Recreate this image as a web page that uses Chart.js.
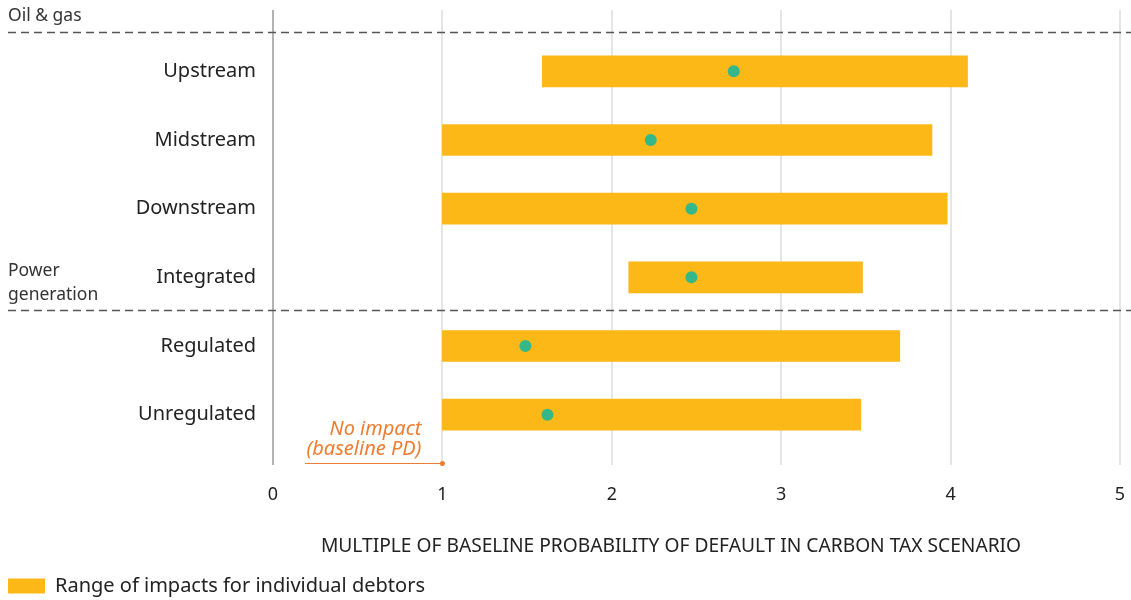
<!DOCTYPE html>
<html>
<head>
<meta charset="utf-8">
<script src="https://cdn.jsdelivr.net/npm/chart.js@4"></script>
<style>
  html, body { margin: 0; padding: 0; background: #fff; overflow: hidden; }
  #wrap { width: 1131px; height: 600px; }
</style>
</head>
<body>
<div id="wrap"><canvas id="chart"></canvas></div>
<script>
// data
var categories = ['Upstream', 'Midstream', 'Downstream', 'Integrated', 'Regulated', 'Unregulated'];
var rangeLow   = [1.59, 1.0, 1.0, 2.10, 1.0, 1.0];
var rangeHigh  = [4.10, 3.89, 3.98, 3.48, 3.70, 3.47];
var midPoints  = [2.72, 2.23, 2.47, 2.47, 1.49, 1.62];
var xTicks     = [0, 1, 2, 3, 4, 5];
var xTitle     = 'MULTIPLE OF BASELINE PROBABILITY OF DEFAULT IN CARBON TAX SCENARIO';

var FONT = "'Noto Sans', 'Open Sans', sans-serif";
var BAR = '#fbb816';
var DOT = '#34b88a';
var ORANGE = '#ee7d31';

Chart.defaults.font.family = FONT;
Chart.defaults.color = '#222';

// grid lines, group separators, group labels and the baseline note
var decorPlugin = {
    id: 'decor',
    beforeDatasetsDraw: function(chart) {
        var ctx = chart.ctx;
        var x = chart.scales.x;
        ctx.save();
        xTicks.forEach(function(t) {
            var px = Math.round(x.getPixelForValue(t));
            ctx.beginPath();
            if (t === 0) {
                ctx.strokeStyle = '#b3b3b3';
                ctx.lineWidth = 2;
            } else {
                ctx.strokeStyle = '#dcdcdc';
                ctx.lineWidth = 1.5;
            }
            ctx.moveTo(px, 10);
            ctx.lineTo(px, 465);
            ctx.stroke();
        });
        ctx.restore();
    },
    afterDatasetsDraw: function(chart) {
        var ctx = chart.ctx;
        var x = chart.scales.x, y = chart.scales.y;
        var step = y.getPixelForValue(1) - y.getPixelForValue(0);
        var sep1 = Math.round(y.getPixelForValue(0) - step / 2 - 5) + 0.5;
        var sep2 = Math.round((y.getPixelForValue(3) + y.getPixelForValue(4)) / 2 - 2) + 0.5;
        ctx.save();
        ctx.strokeStyle = '#555';
        ctx.lineWidth = 1.5;
        ctx.setLineDash([8, 5]);
        [sep1, sep2].forEach(function(sy) {
            ctx.beginPath();
            ctx.moveTo(8, sy);
            ctx.lineTo(chart.width, sy);
            ctx.stroke();
        });
        ctx.setLineDash([]);

        ctx.fillStyle = '#333';
        ctx.font = '17.5px ' + FONT;
        ctx.textAlign = 'left';
        ctx.textBaseline = 'middle';
        ctx.fillText('Oil & gas', 8, 16);
        ctx.fillText('Power', 8, 271);
        ctx.fillText('generation', 8, 295);

        // axis title, sits a little left of the plot centre
        ctx.fillStyle = '#222';
        ctx.font = '19.2px ' + FONT;
        ctx.textAlign = 'center';
        ctx.fillText(xTitle, 671, 547);

        // baseline note
        var p1 = x.getPixelForValue(1);
        ctx.fillStyle = ORANGE;
        ctx.font = 'italic 20px ' + FONT;
        ctx.textAlign = 'right';
        ctx.fillText('No impact', p1 - 21, 429);
        ctx.fillText('(baseline PD)', p1 - 21, 449);
        ctx.strokeStyle = ORANGE;
        ctx.lineWidth = 1;
        ctx.beginPath();
        ctx.moveTo(305, 463.5);
        ctx.lineTo(p1, 463.5);
        ctx.stroke();
        ctx.beginPath();
        ctx.arc(p1, 463.5, 2.5, 0, Math.PI * 2);
        ctx.fill();
        ctx.restore();
    }
};

new Chart(document.getElementById('chart'), {
    type: 'bar',
    data: {
        labels: categories,
        datasets: [{
            label: 'Range of impacts for individual debtors',
            data: rangeLow.map(function(v, i) { return [v, rangeHigh[i]]; }),
            backgroundColor: BAR,
            borderWidth: 0,
            barThickness: 31,
            order: 2
        }, {
            type: 'line',
            label: 'Midpoint',
            data: midPoints,
            showLine: false,
            pointRadius: 6,
            pointHoverRadius: 6,
            pointBackgroundColor: DOT,
            pointBorderWidth: 0,
            order: 1
        }]
    },
    options: {
        indexAxis: 'y',
        responsive: true,
        maintainAspectRatio: false,
        animation: false,
        layout: { padding: { top: 37, right: 11, left: 4, bottom: -6 } },
        scales: {
            x: {
                type: 'linear',
                min: 0,
                max: 5,
                afterBuildTicks: function(s) { s.ticks = xTicks.map(function(v) { return { value: v }; }); },
                afterFit: function(s) {
                    s.height = 123;
                    s.paddingLeft = 0;
                    s.paddingRight = 0;
                },
                grid: { display: false, drawTicks: false },
                border: { display: false },
                ticks: { padding: 35, color: '#222', font: { size: 18 } }
            },
            y: {
                type: 'category',
                afterFit: function(s) { s.width = 269; },
                grid: { display: false, drawTicks: false },
                border: { display: false },
                ticks: { padding: 17, color: '#222', font: { size: 20 } }
            }
        },
        plugins: {
            legend: {
                position: 'bottom',
                align: 'start',
                labels: {
                    boxWidth: 37,
                    boxHeight: 15,
                    padding: 4,
                    color: '#222',
                    font: { size: 20 },
                    filter: function(item) { return item.datasetIndex === 0; }
                }
            },
            tooltip: { enabled: false }
        }
    },
    plugins: [decorPlugin]
});
</script>
</body>
</html>
